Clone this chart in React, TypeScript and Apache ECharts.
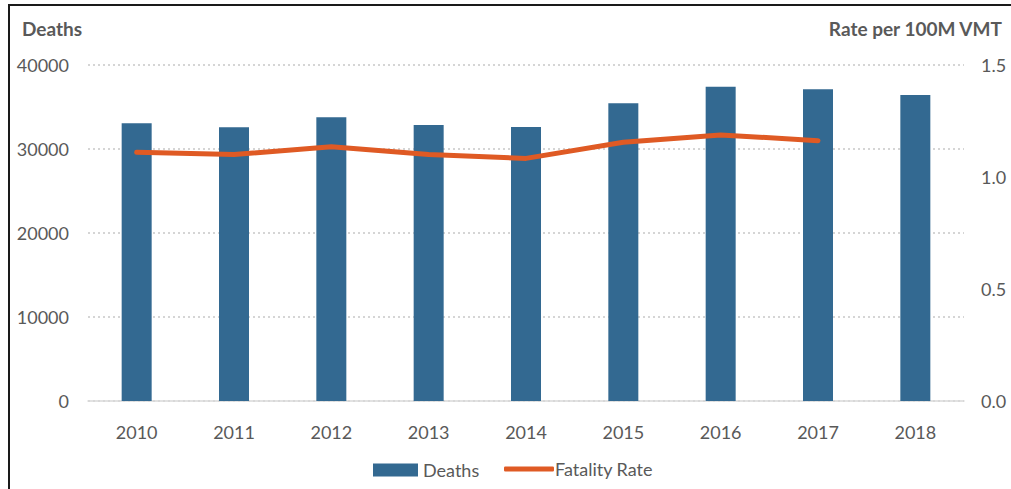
import React, { useEffect, useRef } from "react";
import * as echarts from "echarts";

const years = ["2010", "2011", "2012", "2013", "2014", "2015", "2016", "2017", "2018"];
const deaths = [33060, 32580, 33770, 32860, 32620, 35440, 37420, 37110, 36430];
const fatalityRate = [1.11, 1.1, 1.135, 1.1, 1.083, 1.155, 1.188, 1.162, null];
const leftTicks = { min: 0, max: 40000, interval: 10000 };
const rightTicks = { min: 0, max: 1.5, interval: 0.5 };

const FONT = "Lato, 'Liberation Sans', sans-serif";
const GRAY = "#595959";

export default function App() {
  const ref = useRef<HTMLDivElement>(null);
  useEffect(() => {
    if (!ref.current) return;
    const chart = echarts.init(ref.current, undefined, { renderer: "svg" });
    chart.setOption({
      animation: false,
      backgroundColor: "#ffffff",
      textStyle: { fontFamily: FONT },
      grid: { left: 88, right: 47, top: 65, bottom: 88 },
      legend: [
        {
          data: [{ name: "Deaths", icon: "rect" }],
          left: 373,
          top: 461,
          padding: 0,
          itemWidth: 45,
          itemHeight: 13,
          itemGap: 0,
          textStyle: { fontFamily: FONT, fontSize: 18, color: GRAY },
        },
        {
          data: [{ name: "Fatality Rate", icon: "roundRect" }],
          left: 504,
          top: 460,
          padding: 0,
          itemWidth: 50,
          itemHeight: 5,
          itemGap: 0,
          textStyle: { fontFamily: FONT, fontSize: 18, color: GRAY, padding: [0, 0, 0, -4] },
        },
      ],
      xAxis: {
        type: "category",
        data: years,
        axisLine: { show: true, lineStyle: { color: "#d9d9d9", width: 1.5 } },
        axisTick: { show: false },
        axisLabel: { color: GRAY, fontSize: 18, margin: 22, fontFamily: FONT },
      },
      yAxis: [
        {
          type: "value",
          ...leftTicks,
          axisLine: { show: false },
          axisTick: { show: false },
          axisLabel: {
            color: GRAY,
            fontSize: 18,
            margin: 19,
            fontFamily: FONT,
            formatter: (v: number) => String(v),
          },
          splitLine: { show: true, lineStyle: { color: "#c8c8c8", type: [2, 3], width: 1.5 } },
        },
        {
          type: "value",
          ...rightTicks,
          axisLine: { show: false },
          axisTick: { show: false },
          axisLabel: {
            color: GRAY,
            fontSize: 18,
            margin: 17,
            fontFamily: FONT,
            formatter: (v: number) => v.toFixed(1),
          },
          splitLine: { show: false },
        },
      ],
      series: [
        {
          name: "Deaths",
          type: "bar",
          data: deaths,
          barWidth: 30,
          itemStyle: { color: "#336991" },
        },
        {
          name: "Fatality Rate",
          type: "line",
          yAxisIndex: 1,
          data: fatalityRate,
          symbol: "none",
          lineStyle: { color: "#df5a24", width: 5, cap: "round", join: "round" },
          itemStyle: { color: "#df5a24" },
        },
      ],
      graphic: [
        {
          type: "polyline",
          shape: { points: [[9, 489], [9, 5], [1011, 5]] },
          style: { stroke: "#1a1a1a", lineWidth: 2, fill: "none" },
        },
        {
          type: "text",
          left: 22,
          top: 19,
          style: { text: "Deaths", fontSize: 19, fontWeight: "bold", fill: GRAY, fontFamily: FONT },
        },
        {
          type: "text",
          right: 8,
          top: 19,
          style: { text: "Rate per 100M VMT", fontSize: 19, fontWeight: "bold", fill: GRAY, fontFamily: FONT },
        },
      ],
    });
    return () => chart.dispose();
  }, []);
  return (
    <div
      ref={ref}
      style={{ position: "fixed", left: 0, top: 0, width: 1011, height: 489 }}
    />
  );
}
